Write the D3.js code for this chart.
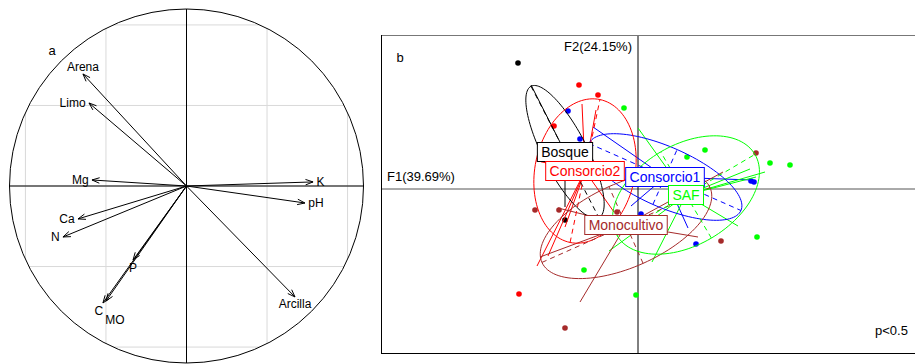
<!DOCTYPE html>
<html><head><meta charset="utf-8">
<script src="https://cdn.jsdelivr.net/npm/d3@7"></script>
<style>
body{margin:0;background:#fff}
svg{display:block;font-family:"Liberation Sans",Arial,Helvetica,sans-serif}
</style>
</head><body>
<svg id="chart" width="915" height="364"></svg>
<script>
// ---------- Panel a : correlation circle ----------
const varNames = ["Arena","Limo","Mg","K","pH","Ca","N","P","C","MO","Arcilla"];
const varX = [-0.585,-0.551,-0.534,0.715,0.669,-0.613,-0.698,-0.302,-0.472,-0.455,0.613];
const varY = [0.633,0.469,0.034,0.023,-0.096,-0.186,-0.288,-0.418,-0.661,-0.650,-0.627];
const gridVals = [-0.91,-0.455,0,0.455,0.91];

// ---------- Panel b : class plot ----------
const classNames = ["Bosque","Consorcio1","Consorcio2","Monocultivo","SAF"];
const centroidX = [-1.825, 0.675, -1.325, -0.30, 1.20];
const centroidY = [0.925, 0.30, 0.45, -0.90, -0.15];
const ellipseA = [1.85, 2.075, 1.825, 2.30, 2.00];
const ellipseB = [0.55, 0.75, 1.25, 1.05, 1.25];
const ellipseAngle = [-62.7, -23.8, 78.2, 24, 30.5];

const pointClass = ["Bosque","Bosque",
  "Consorcio2","Consorcio2","Consorcio2","Consorcio2",
  "Consorcio1","Consorcio1","Consorcio1","Consorcio1","Consorcio1","Consorcio1",
  "SAF","SAF","SAF","SAF","SAF","SAF","SAF","SAF",
  "Monocultivo","Monocultivo","Monocultivo","Monocultivo","Monocultivo","Monocultivo"];
const pointX = [-3.00,-1.825,
  -1.475,-1.00,-2.10,-2.975,
  -1.75,-1.45,2.825,2.90,1.45,0.075,
  -0.35,1.675,1.225,3.30,3.80,2.975,-1.35,-0.05,
  -2.575,-1.975,-0.525,2.95,2.075,-1.825];
const pointY = [3.15,-0.775,
  2.60,2.35,1.575,-2.625,
  1.95,1.25,0.20,0.175,-1.375,-0.625,
  2.025,0.975,0.80,0.65,0.60,-1.20,-2.025,-2.65,
  -0.525,-0.525,-0.575,0.90,-1.30,-3.475];

const starClass = ["Bosque","Bosque",
  "Consorcio2","Consorcio2","Consorcio2","Consorcio2","Consorcio2","Consorcio2","Consorcio2",
  "Consorcio1","Consorcio1","Consorcio1","Consorcio1",
  "SAF","SAF","SAF","SAF","SAF","SAF","SAF",
  "Monocultivo","Monocultivo","Monocultivo","Monocultivo","Monocultivo"];
const starX = [-2.675,-1.825,
  -1.40,-1.05,-1.875,-2.525,-2.25,-1.825,-0.60,
  -1.125,2.85,1.25,-0.175,
  0.00,3.175,2.80,2.95,0.35,2.50,-0.725,
  -1.45,1.50,2.125,-2.00,-2.45];
const starY = [2.60,-0.45,
  2.125,1.975,0.875,-1.925,-1.675,-0.95,-0.575,
  1.55,0.225,-0.975,-0.425,
  1.525,0.425,0.50,0.30,-1.825,-0.925,-1.55,
  -2.825,-1.20,0.425,-0.475,-1.70];

// ---------- styles ----------
const classColor = {Bosque:"#000000",Consorcio1:"#0000ff",Consorcio2:"#ff0000",Monocultivo:"#a52a2a",SAF:"#00ff00"};

const svg = d3.select("#chart");

// ===== Panel a =====
const R = 177, CX = 186.5, CY = 186;
const ax = d3.scaleLinear().domain([-1,1]).range([CX-R, CX+R]);
const ay = d3.scaleLinear().domain([-1,1]).range([CY+R, CY-R]);
const gA = svg.append("g");
svg.append("clipPath").attr("id","circClip").append("circle").attr("cx",CX).attr("cy",CY).attr("r",R);
const grid = gA.append("g").attr("clip-path","url(#circClip)");
gridVals.forEach(v=>{
  grid.append("line").attr("x1",ax(v)).attr("x2",ax(v)).attr("y1",ay(1)).attr("y2",ay(-1))
    .attr("stroke","#d9d9d9").attr("stroke-width",1);
  grid.append("line").attr("y1",ay(v)).attr("y2",ay(v)).attr("x1",ax(-1)).attr("x2",ax(1))
    .attr("stroke","#d9d9d9").attr("stroke-width",1);
});
gA.append("circle").attr("cx",CX).attr("cy",CY).attr("r",R).attr("fill","none").attr("stroke","#000");
gA.append("line").attr("x1",ax(-1)).attr("x2",ax(1)).attr("y1",ay(0)).attr("y2",ay(0)).attr("stroke","#000");
gA.append("line").attr("x1",ax(0)).attr("x2",ax(0)).attr("y1",ay(1)).attr("y2",ay(-1)).attr("stroke","#000");

const headLen = 8, headAng = 20*Math.PI/180;
varNames.forEach((nm,i)=>{
  const x0=ax(0), y0=ay(0), x1=ax(varX[i]), y1=ay(varY[i]);
  const ang = Math.atan2(y1-y0, x1-x0);
  const p = d3.path();
  p.moveTo(x0,y0); p.lineTo(x1,y1);
  p.moveTo(x1-headLen*Math.cos(ang-headAng), y1-headLen*Math.sin(ang-headAng));
  p.lineTo(x1,y1);
  p.lineTo(x1-headLen*Math.cos(ang+headAng), y1-headLen*Math.sin(ang+headAng));
  gA.append("path").attr("d",p.toString()).attr("fill","none").attr("stroke","#000").attr("stroke-width",1);
});
// labels (ade4 scatterutil.eti.circ rule)
const fsA = 12, spaceW = 0.278*fsA, yh = 7.2;
const labelNudge = {C:[-4,0], MO:[9,11]};
varNames.forEach((nm,i)=>{
  const xr = varX[i], yr = varY[i];
  let x = ax(xr), y = ay(yr), anchor="middle";
  if (xr>yr && xr>-yr){ x += spaceW; anchor="start"; }
  else if (xr>yr && xr<=-yr){ y += yh; }
  else if (xr<=yr && xr<=-yr){ x -= spaceW; anchor="end"; }
  else { y -= yh; }
  const nd = labelNudge[nm]||[0,0];
  gA.append("text").attr("x",x+nd[0]).attr("y",y+nd[1]).attr("dy","0.36em")
    .attr("text-anchor",anchor).attr("font-size",fsA).text(nm);
});
gA.append("text").attr("x",52).attr("y",50).attr("dy","0.36em").attr("text-anchor","middle")
  .attr("font-size",13).text("a");

// ===== Panel b =====
const bx = d3.scaleLinear().domain([-6.4, 7.0]).range([382, 918]);
const by = d3.scaleLinear().domain([-4.125, 3.85]).range([354, 35]);
const L = 381, T = 35, Rr = 916, B = 354;
svg.append("clipPath").attr("id","boxClip").append("rect").attr("x",L).attr("y",T).attr("width",Rr-L).attr("height",B-T);
const gB = svg.append("g");
const inner = gB.append("g").attr("clip-path","url(#boxClip)");

inner.append("line").attr("x1",L).attr("x2",Rr).attr("y1",by(0)).attr("y2",by(0)).attr("stroke","#555");
inner.append("line").attr("x1",bx(0)).attr("x2",bx(0)).attr("y1",T).attr("y2",B).attr("stroke","#000");

// points
pointX.forEach((v,i)=>{
  inner.append("circle").attr("cx",bx(v)).attr("cy",by(pointY[i])).attr("r",2.8)
    .attr("fill",classColor[pointClass[i]]);
});
// stars
starX.forEach((v,i)=>{
  const k = classNames.indexOf(starClass[i]);
  inner.append("line").attr("x1",bx(centroidX[k])).attr("y1",by(centroidY[k]))
    .attr("x2",bx(v)).attr("y2",by(starY[i]))
    .attr("stroke",classColor[starClass[i]]).attr("stroke-width",1);
});
// ellipses + axes
classNames.forEach((nm,k)=>{
  const th = ellipseAngle[k]*Math.PI/180, a=ellipseA[k], b=ellipseB[k];
  const cxk=centroidX[k], cyk=centroidY[k];
  const pts = d3.range(0,120).map(j=>{
    const t=j/120*2*Math.PI;
    return [cxk + a*Math.cos(t)*Math.cos(th) - b*Math.sin(t)*Math.sin(th),
            cyk + a*Math.cos(t)*Math.sin(th) + b*Math.sin(t)*Math.cos(th)];
  });
  const line = d3.line().x(d=>bx(d[0])).y(d=>by(d[1])).curve(d3.curveLinearClosed);
  inner.append("path").attr("d",line(pts)).attr("fill","none").attr("stroke",classColor[nm]).attr("stroke-width",1);
  const axes = [[a*Math.cos(th), a*Math.sin(th)], [-b*Math.sin(th), b*Math.cos(th)]];
  axes.forEach(v=>{
    inner.append("line").attr("x1",bx(cxk-v[0])).attr("y1",by(cyk-v[1]))
      .attr("x2",bx(cxk+v[0])).attr("y2",by(cyk+v[1]))
      .attr("stroke",classColor[nm]).attr("stroke-dasharray","5,4").attr("stroke-width",1);
  });
});
// class labels
const fsB = 14;
classNames.forEach((nm,k)=>{
  const g = inner.append("g");
  const t = g.append("text").attr("x",bx(centroidX[k])).attr("y",by(centroidY[k])).attr("dy","0.36em")
    .attr("text-anchor","middle").attr("font-size",fsB).attr("fill",classColor[nm]).text(nm);
  const w = t.node().getComputedTextLength() + 2*0.278*fsB;
  const h = 19;
  g.insert("rect","text").attr("x",bx(centroidX[k])-w/2).attr("y",by(centroidY[k])-h/2)
    .attr("width",w).attr("height",h).attr("fill","#fff").attr("stroke",classColor[nm]).attr("stroke-width",1);
});

// frame
gB.append("line").attr("x1",L).attr("x2",Rr).attr("y1",T+0.5).attr("y2",T+0.5).attr("stroke","#777");
gB.append("line").attr("x1",L+0.5).attr("x2",L+0.5).attr("y1",T).attr("y2",B).attr("stroke","#000");
gB.append("line").attr("x1",L).attr("x2",Rr).attr("y1",B-0.5).attr("y2",B-0.5).attr("stroke","#000");

gB.append("text").attr("x",400).attr("y",62).attr("font-size",13).attr("text-anchor","middle").text("b");
gB.append("text").attr("x",bx(0)-6).attr("y",51).attr("font-size",13).attr("text-anchor","end").text("F2(24.15%)");
gB.append("text").attr("x",L+6).attr("y",by(0)-8).attr("font-size",13).attr("text-anchor","start").text("F1(39.69%)");
gB.append("text").attr("x",875).attr("y",335).attr("font-size",13).attr("text-anchor","start").text("p<0.5");
</script>
</body></html>
